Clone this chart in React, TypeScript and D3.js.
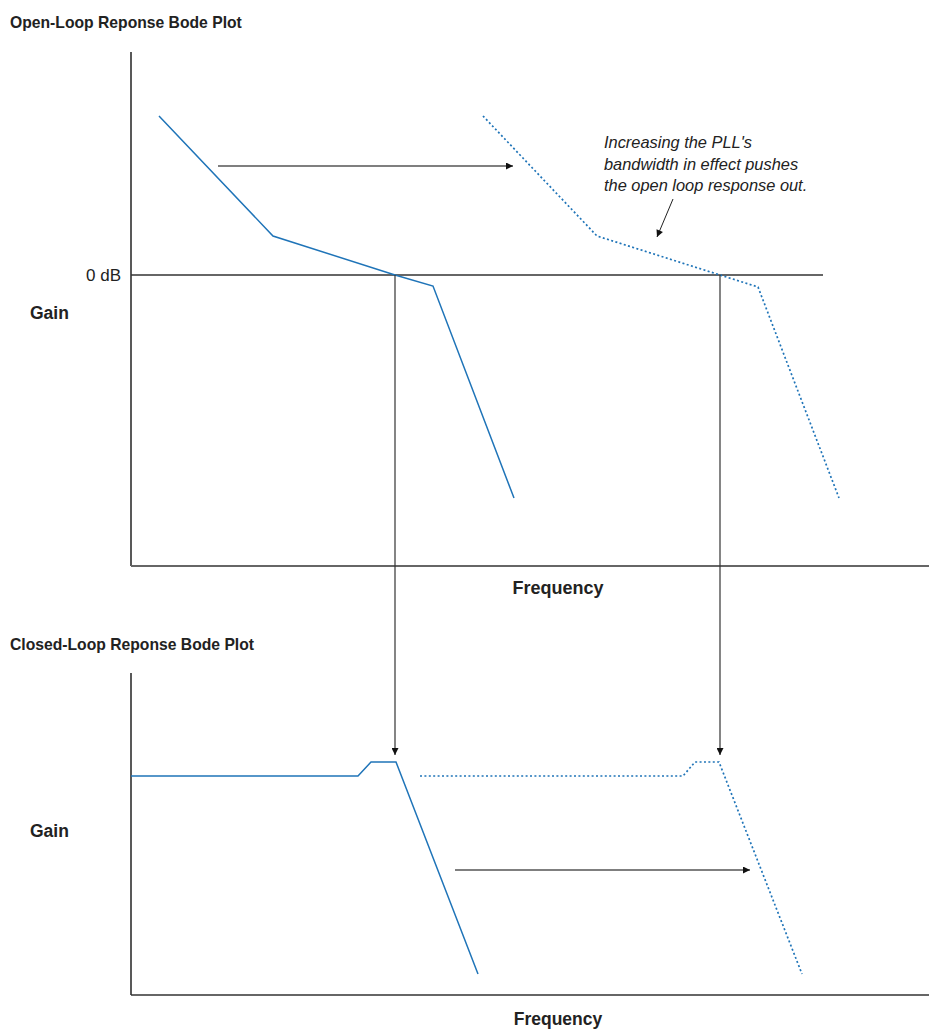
import React from "react";
import * as d3 from "d3";

// Frequency units (arbitrary, linear) and gain units (arbitrary, 0 = 0 dB / flat level)
const openSolidFreq = [28, 142, 264, 302, 383];
const openSolidGain = [159, 39, 0, -11, -223];
const openShiftFreq = [352, 466, 589, 627, 708];
const openShiftGain = [159, 39, 0, -12, -223];

const closedSolidFreq = [0, 227, 240, 265, 347];
const closedSolidGain = [0, 0, 14, 14, -198];
const closedShiftFreq = [289, 552, 564, 588, 671];
const closedShiftGain = [0, 0, 14, 14, -198];

const crossoverFreq = [264, 589];
const topArrowFreq = [87, 382];
const topArrowGain = 109;
const bottomArrowFreq = [324, 619];
const bottomArrowGain = -94;
const noteArrowFreq = [542, 526];
const noteArrowGain = [76, 38];
const noteLines = [
  "Increasing the PLL's",
  "bandwidth in effect pushes",
  "the open loop response out.",
];
const titles = ["Open-Loop Reponse Bode Plot", "Closed-Loop Reponse Bode Plot"];

const W = 929;
const H = 1030;
const BLUE = "#1f74b8";
const TITLE_FONT = "'Liberation Sans Narrow', 'Arial Narrow', 'Liberation Sans', sans-serif";
const BODY_FONT = "'Liberation Sans', Arial, Helvetica, sans-serif";

const x = d3.scaleLinear().domain([0, 800]).range([131, 931]);
const yTop = d3.scaleLinear().domain([-291, 223]).range([566, 52]);
const yBot = d3.scaleLinear().domain([-219, 103]).range([995, 673]);

function pts(fx: number[], gy: number[]): [number, number][] {
  return fx.map((f, i) => [f, gy[i]]);
}

export default function App() {
  const lineTop = d3
    .line<[number, number]>()
    .x((d) => x(d[0]))
    .y((d) => yTop(d[1]));
  const lineBot = d3
    .line<[number, number]>()
    .x((d) => x(d[0]))
    .y((d) => yBot(d[1]));

  return (
    <svg
      width={W}
      height={H}
      style={{ position: "absolute", left: 0, top: 0, background: "#fff" }}
    >
      <defs>
        <marker
          id="ah"
          viewBox="0 0 10 10"
          refX="10"
          refY="5"
          markerWidth="9"
          markerHeight="7"
          markerUnits="userSpaceOnUse"
          orient="auto"
        >
          <path d="M0,0 L10,5 L0,10 Z" fill="#111" />
        </marker>
      </defs>

      {/* Titles */}
      <text x={10} y={28} fontFamily={TITLE_FONT} fontWeight="bold" fontSize={15.7} fill="#222">
        {titles[0]}
      </text>
      <text x={10} y={650} fontFamily={TITLE_FONT} fontWeight="bold" fontSize={15.7} fill="#222">
        {titles[1]}
      </text>

      {/* Top plot axes */}
      <line x1={x(0)} x2={x(0)} y1={yTop(223)} y2={yTop(-291)} stroke="#222" strokeWidth={1.5} />
      <line x1={x(0)} x2={W} y1={yTop(-291)} y2={yTop(-291)} stroke="#666" strokeWidth={1.8} />
      <line x1={x(0)} x2={x(692)} y1={yTop(0)} y2={yTop(0)} stroke="#333" strokeWidth={1.3} />

      <text x={121} y={yTop(0) + 6} textAnchor="end" fontFamily={BODY_FONT} fontSize={17} fill="#222">
        0 dB
      </text>
      <text x={30} y={yTop(-38) + 6} fontFamily={BODY_FONT} fontWeight="bold" fontSize={17.5} fill="#222">
        Gain
      </text>
      <text x={558} y={594} textAnchor="middle" fontFamily={BODY_FONT} fontWeight="bold" fontSize={18} fill="#222">
        Frequency
      </text>

      {/* Open loop curves */}
      <path d={lineTop(pts(openSolidFreq, openSolidGain)) || ""} fill="none" stroke={BLUE} strokeWidth={1.5} />
      <path
        d={lineTop(pts(openShiftFreq, openShiftGain)) || ""}
        fill="none"
        stroke={BLUE}
        strokeWidth={1.7}
        strokeDasharray="2,2.4"
      />

      {/* Top shift arrow */}
      <line
        x1={x(topArrowFreq[0])}
        x2={x(topArrowFreq[1])}
        y1={yTop(topArrowGain)}
        y2={yTop(topArrowGain)}
        stroke="#555"
        strokeWidth={1.5}
        markerEnd="url(#ah)"
      />

      {/* Annotation */}
      {noteLines.map((t, i) => (
        <text
          key={i}
          x={604}
          y={148 + i * 21.5}
          fontFamily={TITLE_FONT}
          fontStyle="italic"
          fontSize={16.4}
          fill="#222"
        >
          {t}
        </text>
      ))}
      <line
        x1={x(noteArrowFreq[0])}
        x2={x(noteArrowFreq[1])}
        y1={yTop(noteArrowGain[0])}
        y2={yTop(noteArrowGain[1])}
        stroke="#222"
        strokeWidth={1}
        markerEnd="url(#ah)"
      />

      {/* Crossover drop lines */}
      {crossoverFreq.map((f, i) => (
        <line
          key={i}
          x1={x(f)}
          x2={x(f)}
          y1={yTop(0)}
          y2={yBot(21)}
          stroke="#333"
          strokeWidth={1.2}
          markerEnd="url(#ah)"
        />
      ))}

      {/* Bottom plot axes */}
      <line x1={x(0)} x2={x(0)} y1={yBot(103)} y2={yBot(-219)} stroke="#222" strokeWidth={1.5} />
      <line x1={x(0)} x2={W} y1={yBot(-219)} y2={yBot(-219)} stroke="#333" strokeWidth={1.3} />

      <text x={30} y={yBot(-55) + 6} fontFamily={BODY_FONT} fontWeight="bold" fontSize={17.5} fill="#222">
        Gain
      </text>
      <text x={558} y={1025} textAnchor="middle" fontFamily={BODY_FONT} fontWeight="bold" fontSize={17.5} fill="#222">
        Frequency
      </text>

      {/* Closed loop curves */}
      <path d={lineBot(pts(closedSolidFreq, closedSolidGain)) || ""} fill="none" stroke={BLUE} strokeWidth={1.5} />
      <path
        d={lineBot(pts(closedShiftFreq, closedShiftGain)) || ""}
        fill="none"
        stroke={BLUE}
        strokeWidth={1.7}
        strokeDasharray="2,2.4"
      />

      {/* Bottom shift arrow */}
      <line
        x1={x(bottomArrowFreq[0])}
        x2={x(bottomArrowFreq[1])}
        y1={yBot(bottomArrowGain)}
        y2={yBot(bottomArrowGain)}
        stroke="#555"
        strokeWidth={1.5}
        markerEnd="url(#ah)"
      />
    </svg>
  );
}
